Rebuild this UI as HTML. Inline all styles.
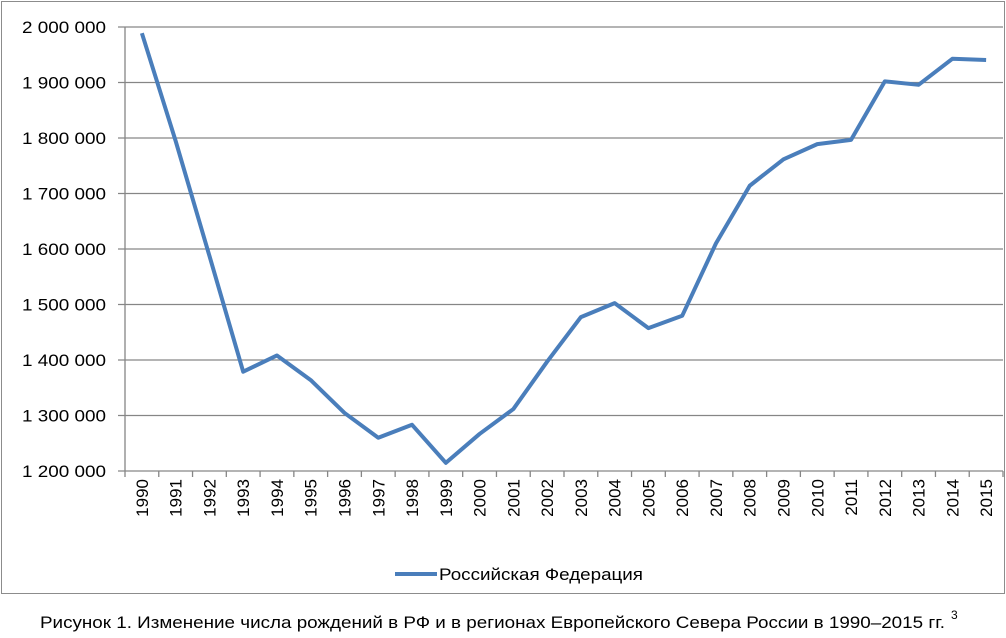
<!DOCTYPE html>
<html><head><meta charset="utf-8"><style>
body{margin:0;background:#fff;width:1006px;height:633px;overflow:hidden;font-family:"Liberation Sans","DejaVu Sans",sans-serif}
</style></head><body>
<svg width="1006" height="633" xmlns="http://www.w3.org/2000/svg">
<rect x="1.5" y="1.5" width="1003" height="592" fill="#fff" stroke="#8c8c8c"/>
<g id="grid"></g><g id="axes"></g><g id="series"></g>
<g>
<line x1="395" y1="574" x2="437" y2="574" stroke="#4a7ebb" stroke-width="4"/>
<text x="439" y="580" font-size="17" fill="#000" textLength="204" lengthAdjust="spacingAndGlyphs">Российская Федерация</text>
</g>
<text x="40" y="628" font-size="17" fill="#000" textLength="905" lengthAdjust="spacingAndGlyphs">Рисунок 1. Изменение числа рождений в РФ и в регионах Европейского Севера России в 1990–2015 гг.</text>
<text x="951" y="619" font-size="12" fill="#000">3</text>
</svg>
<script>
const years=[1990,1991,1992,1993,1994,1995,1996,1997,1998,1999,2000,2001,2002,2003,2004,2005,2006,2007,2008,2009,2010,2011,2012,2013,2014,2015];
const births=[1988858,1794626,1587644,1378983,1408159,1363806,1304638,1259943,1283292,1214689,1266800,1311604,1396967,1477301,1502477,1457376,1479637,1610122,1713947,1761687,1788948,1796629,1902084,1895822,1942683,1940579];
const yTicks=[1200000,1300000,1400000,1500000,1600000,1700000,1800000,1900000,2000000];
const NS="http://www.w3.org/2000/svg";
const L=125,R=1003,T=27,B=471,yMin=1200000,yMax=2000000;
const cw=(R-L)/years.length;
const x=i=>L+cw*(i+0.5);
const y=v=>B-(v-yMin)/(yMax-yMin)*(B-T);
const fmt=v=>String(v).replace(/\B(?=(\d{3})+(?!\d))/g," ");
function mk(tag,attrs,parent){const e=document.createElementNS(NS,tag);for(const k in attrs)e.setAttribute(k,attrs[k]);parent.appendChild(e);return e;}
const grid=document.getElementById('grid'),axes=document.getElementById('axes'),ser=document.getElementById('series');
yTicks.forEach(v=>{
 const l=mk('line',{x1:118,x2:R,y1:y(v),y2:y(v),stroke:'#868686','stroke-width':1.3},grid);
 
 
 const t=mk('text',{x:106,y:y(v)+6,'text-anchor':'end','font-size':17,fill:'#000',textLength:(fmt(v).length===9?84:84),lengthAdjust:'spacingAndGlyphs'},axes);
 t.textContent=fmt(v);
 
 
});
const ya=mk('line',{x1:L,x2:L,y1:T,y2:B,stroke:'#868686','stroke-width':1.3},axes);


for(let i=0;i<=years.length;i++){
 const tk=mk('line',{x1:L+cw*i,x2:L+cw*i,y1:B,y2:B+6,stroke:'#868686','stroke-width':1.3},axes);
 
 
}
years.forEach((yr,i)=>{
 const t=mk('text',{transform:`translate(${x(i)+6},${B+8}) rotate(-90)`,'text-anchor':'end','font-size':17,fill:'#000'},axes);
 t.textContent=yr;
 
 
});
const p=mk('polyline',{points:births.map((v,i)=>x(i)+','+y(v)).join(' '),fill:'none',stroke:'#4a7ebb','stroke-width':4,'stroke-linejoin':'round'},ser);


</script>
</body></html>
